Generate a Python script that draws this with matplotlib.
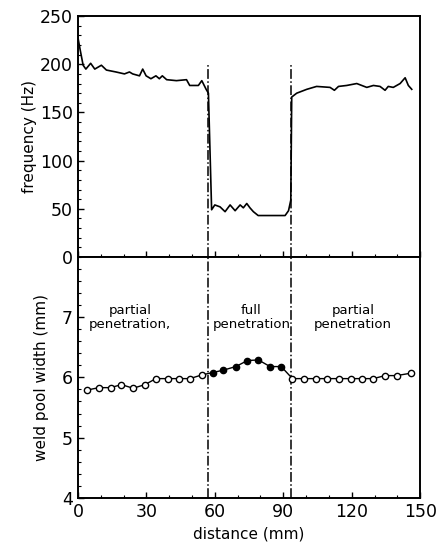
import numpy as np
import matplotlib
matplotlib.use("Agg")
import matplotlib.pyplot as plt
from matplotlib.ticker import MultipleLocator

# frequency trace (top panel)
freq_x = [0, 1, 2.3, 3.5, 5.6, 7.4, 10.3, 12.5, 16.7, 20.4, 22.6, 24, 27, 28.4, 29.9,
          32, 34.2, 35.7, 37, 38.9, 43.2, 47.6, 49, 52.8, 54.3, 56.2, 57.2, 58.6, 60,
          62.3, 64.5, 66.7, 68.9, 71.1, 72.5, 74, 75.4, 76.9, 79, 90.8, 92.3, 93.3,
          93.7, 95.9, 100.3, 104.6, 110.5, 112.4, 114.2, 117.8, 122.2, 126.6, 129.5,
          132.4, 134.6, 136, 138.2, 141.2, 143.4, 144.8, 146.3]
freq_hz = [228, 215, 199, 195, 201, 195, 199, 194, 192, 190, 192, 190, 188, 195, 188,
           185, 188, 185, 188, 184, 183, 184, 178, 178, 183, 174, 170, 49, 54,
           52, 47, 54, 48, 54, 51, 55.5, 51, 47, 43, 43, 48, 59,
           166, 170, 174, 177, 176, 173, 177, 178, 180, 176, 178,
           177, 173, 177, 176, 180, 186, 178, 174]

# weld pool width (bottom panel)
open1_x = [4.1, 9.2, 14.3, 19.1, 24.2, 29.4, 34.2, 39.3, 44.3, 49.1, 54.2]
open1_w = [5.79, 5.83, 5.83, 5.88, 5.82, 5.88, 5.98, 5.98, 5.98, 5.98, 6.04]
full_x = [59.0, 63.7, 69.2, 74.3, 79.1, 84.2, 89.1]
full_w = [6.08, 6.12, 6.18, 6.28, 6.29, 6.18, 6.18]
open2_x = [94.0, 99.1, 104.2, 109.3, 114.4, 119.5, 124.7, 129.5, 134.6, 139.7, 145.9]
open2_w = [5.98, 5.98, 5.98, 5.98, 5.98, 5.98, 5.98, 5.98, 6.03, 6.03, 6.07]

boundaries = [57, 93.3]
x_ticks = [0, 30, 60, 90, 120, 150]

plt.rcParams['font.family'] = 'DejaVu Sans'

fig = plt.figure(figsize=(4.4, 5.55), dpi=100)
ax1 = fig.add_axes([0.177, 0.537, 0.778, 0.434])
ax2 = fig.add_axes([0.177, 0.103, 0.778, 0.434], sharex=ax1)

ax1.plot(freq_x, freq_hz, color='black', lw=1.2)
ax1.set_ylim(0, 250)
ax1.set_yticks([0, 50, 100, 150, 200, 250])
ax1.yaxis.set_minor_locator(MultipleLocator(10))
ax1.set_ylabel('frequency (Hz)', fontsize=11, labelpad=2)
ax1.tick_params(axis='x', labelbottom=False)

all_x = open1_x + full_x + open2_x
all_w = open1_w + full_w + open2_w
ax2.plot(all_x, all_w, color='black', lw=1.0, zorder=2)
ax2.plot(open1_x + open2_x, open1_w + open2_w, 'o', ms=4.5, mfc='white',
         mec='black', mew=1.0, zorder=3)
ax2.plot(full_x, full_w, 'o', ms=4.5, mfc='black', mec='black', zorder=3)
ax2.set_ylim(4, 8)
ax2.set_yticks([4, 5, 6, 7])
ax2.yaxis.set_minor_locator(MultipleLocator(0.2))
ax2.set_ylabel('weld pool width (mm)', fontsize=11, labelpad=9)
ax2.set_xlabel('distance (mm)', fontsize=11)

ax1.set_xlim(0, 150)
ax2.set_xticks(x_ticks)
ax2.xaxis.set_minor_locator(MultipleLocator(10))

for b in boundaries:
    ax1.axvline(b, ymin=0, ymax=201 / 250, color='black', lw=1.1, ls='-.')
    ax2.axvline(b, color='black', lw=1.1, ls='-.')

ax2.text(22.8, 7.0, 'partial\npenetration,', ha='center', va='center',
         fontsize=9.5, linespacing=1.1)
ax2.text(76, 7.0, 'full\npenetration', ha='center', va='center',
         fontsize=9.5, linespacing=1.1)
ax2.text(120.6, 7.0, 'partial\npenetration', ha='center', va='center',
         fontsize=9.5, linespacing=1.1)

for ax in (ax1, ax2):
    for s in ax.spines.values():
        s.set_linewidth(1.4)
    ax.tick_params(which='major', direction='in', length=4, width=1.0,
                   labelsize=12.5)
    ax.tick_params(which='minor', direction='in', length=2, width=0.8)

fig.savefig('out.png', dpi=100)
